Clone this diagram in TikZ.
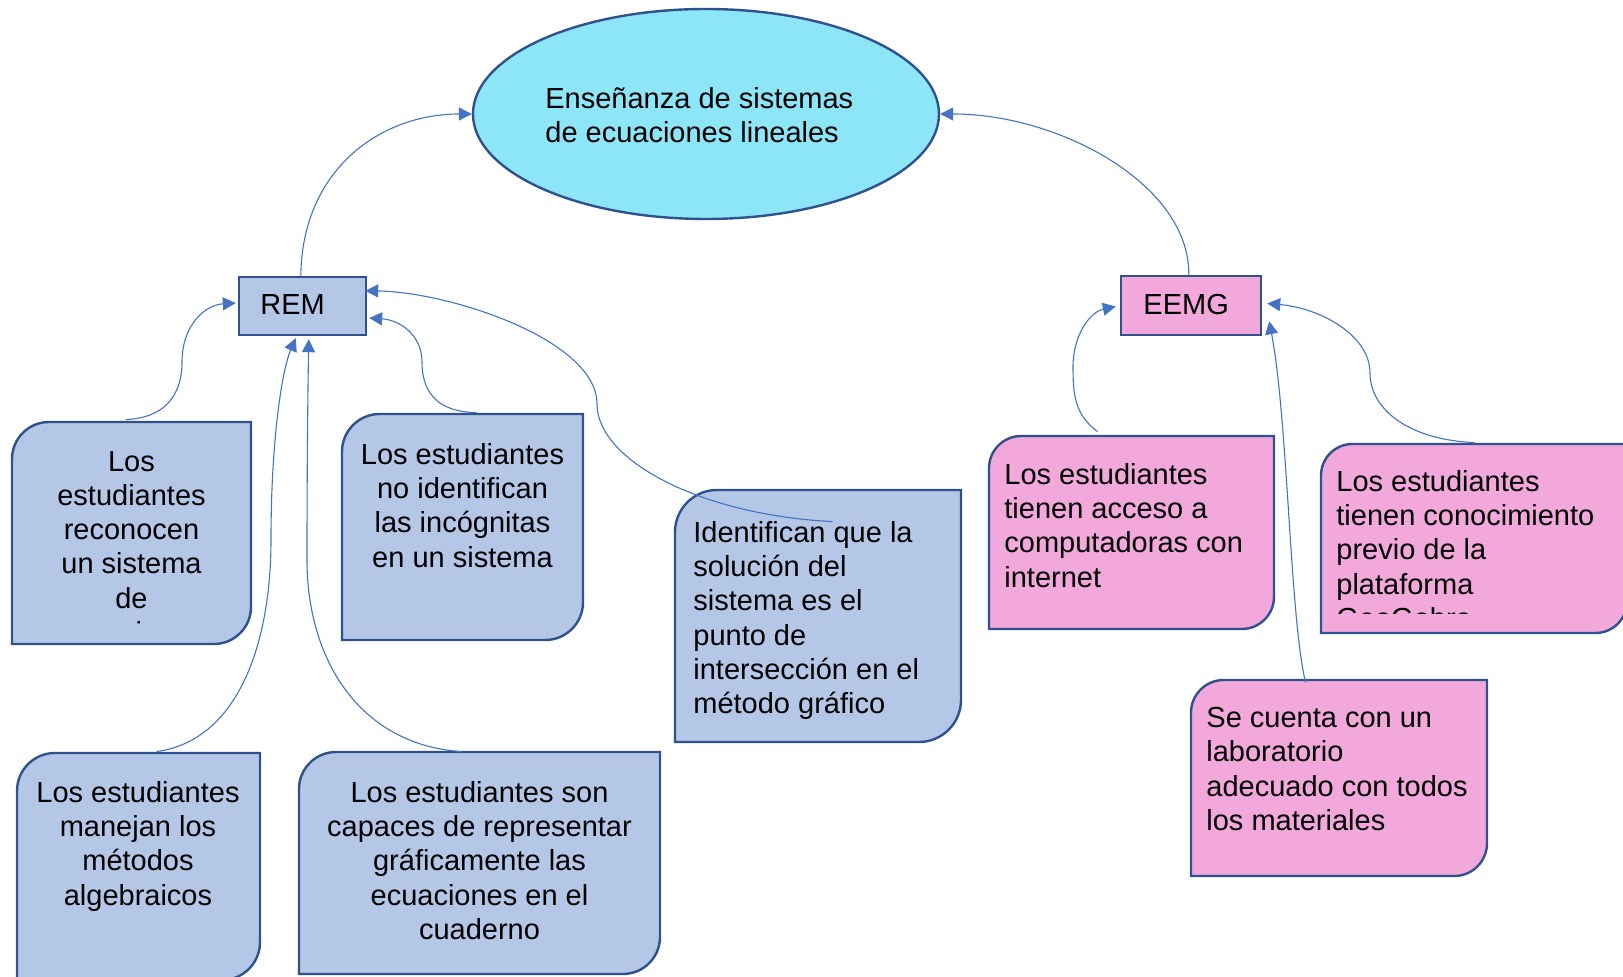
\documentclass[tikz,border=0pt]{standalone}
\usepackage{fontspec}
\setmainfont{Liberation Sans}
\usetikzlibrary{arrows.meta,calc,shapes.geometric}
\definecolor{bfill}{RGB}{180,199,231}
\definecolor{pfill}{RGB}{243,168,220}
\definecolor{efill}{RGB}{140,230,248}
\definecolor{bline}{RGB}{47,82,143}
\definecolor{cline}{RGB}{68,114,196}
\tikzset{
  boxline/.style={draw=bline, line width=1.2pt},
  conn/.style={draw=cline, line width=0.55pt, -{Triangle[length=6.5pt,width=6.5pt]}},
  txt/.style={inner sep=0pt, font=\fontsize{14.5}{17.1}\selectfont},
}
\newcommand\dbox[6]{%
  \pgfmathsetmacro\rr{0.1667*min(#4-#2,#5-#3)}%
  \pgfmathsetmacro\kk{0.448*\rr}%
  \draw[boxline, fill=#6] (#2,#3+\rr) .. controls (#2,#3+\kk) and (#2+\kk,#3) .. (#2+\rr,#3) -- (#4,#3) -- (#4,#5-\rr) .. controls (#4,#5-\kk) and (#4-\kk,#5) .. (#4-\rr,#5) -- (#2,#5) -- cycle;
  \node[inner sep=0pt, minimum width={(#4-#2)*0.5pt}, minimum height={(#5-#3)*0.5pt}] (#1) at ({(#2+#4)/2},{(#3+#5)/2}) {};
}
\begin{document}
\begin{tikzpicture}[x=0.5pt,y=-0.5pt]
\useasboundingbox (0,0) rectangle (1623,977);
% top ellipse
\node[ellipse, boxline, fill=efill, minimum width=233pt, minimum height=105pt, inner sep=0pt] (top) at (706,114) {};
\node[txt, anchor=north west, align=left] (toptxt) at (545,87) {Enseñanza de sistemas\\de ecuaciones lineales};
% REM and EEMG
\node[boxline, fill=bfill, rectangle, inner sep=0pt, minimum width=63.5pt, minimum height=29pt] (REM) at (302.5,306) {};
\node[txt, anchor=base west] (REMt) at (260,315) {REM};
\node[boxline, fill=pfill, rectangle, inner sep=0pt, minimum width=70pt, minimum height=29.5pt] (EEMG) at (1191,305.5) {};
\node[txt, anchor=base west] (EEMGt) at (1143,315) {EEMG};
% boxes
\dbox{A}{12}{422}{251}{644}{bfill}
\dbox{B}{342}{414}{583}{640}{bfill}
\dbox{C}{675}{490}{961}{742}{bfill}
\dbox{D}{17}{753}{260}{980}{bfill}
\dbox{Ebox}{299}{752}{660}{974}{bfill}
\dbox{F}{989}{436}{1274}{629}{pfill}
\dbox{G}{1321}{444}{1627}{633}{pfill}
\dbox{H}{1191}{680}{1487}{876}{pfill}
% texts
\begin{scope}
\clip (12,422) rectangle (251,625);
\node[txt, anchor=north, align=center] (At) at (131.5,451) {Los\\estudiantes\\reconocen\\un sistema\\de\\ecuaciones};
\end{scope}
\node[txt, anchor=north, align=center] (Bt) at (462.5,443) {Los estudiantes\\no identifican\\las incógnitas\\en un sistema};
\node[txt, anchor=north west, align=left] (Ct) at (693,521) {Identifican que la\\solución del\\sistema es el\\punto de\\intersección en el\\método gráfico};
\node[txt, anchor=north, align=center] (Dt) at (138,781) {Los estudiantes\\manejan los\\métodos\\algebraicos};
\node[txt, anchor=north, align=center] (Et) at (479.5,781) {Los estudiantes son\\capaces de representar\\gráficamente las\\ecuaciones en el\\cuaderno};
\node[txt, anchor=north west, align=left] (Ft) at (1004,463) {Los estudiantes\\tienen acceso a\\computadoras con\\internet};
\begin{scope}
\clip (1321,444) rectangle (1627,614);
\node[txt, anchor=north west, align=left] (Gt) at (1336,470) {Los estudiantes\\tienen conocimiento\\previo de la\\plataforma\\GeoGebra};
\end{scope}
\node[txt, anchor=north west, align=left] (Ht) at (1206,707) {Se cuenta con un\\laboratorio\\adecuado con todos\\los materiales};
% connectors
\draw[conn] ($(REM.north west)+(63,0)$) .. controls (302,170) and (380,114) .. (top.west);
\draw[conn] ($(EEMG.north west)+(69,0)$) .. controls (1190,185) and (1060,114) .. (top.east);
\draw[conn] ($(A.north west)+(114,-2)$) .. controls (165,418) and (182,395) .. (182,362) .. controls (182,325) and (205,305) .. ($(REM.west)+(-2,-3)$);
\draw[conn] ($(B.north west)+(135,-1)$) .. controls (440,412) and (422,395) .. (422,362) .. controls (422,335) and (400,320) .. ($(REM.east)+(2,12)$);
\draw[conn] ($(C.north west)+(158,32)$) .. controls (700,515) and (597,460) .. (597,404) .. controls (597,340) and (450,292) .. ($(REM.north east)+(-2,15)$);
\draw[conn] ($(D.north west)+(140,-1)$) .. controls (240,740) and (271,640) .. (271,540) .. controls (271,440) and (282,370) .. ($(REM.south west)+(58,2)$);
\draw[conn] ($(Ebox.north west)+(163,0)$) .. controls (360,745) and (307,660) .. (307,560) .. controls (307,460) and (308,380) .. ($(REM.south west)+(71,3)$);
\draw[conn] ($(F.north west)+(109,-4)$) .. controls (1075,415) and (1073,395) .. (1073,367) .. controls (1073,335) and (1090,312) .. ($(EEMG.west)+(-4,1)$);
\draw[conn] ($(H.north west)+(115,3)$) .. controls (1290,620) and (1288,420) .. ($(EEMG.south east)+(7,-15)$);
\draw[conn] ($(G.north west)+(154,-1)$) .. controls (1410,440) and (1370,410) .. (1370,373) .. controls (1370,335) and (1320,308) .. ($(EEMG.east)+(5,-2)$);
\end{tikzpicture}
\end{document}
